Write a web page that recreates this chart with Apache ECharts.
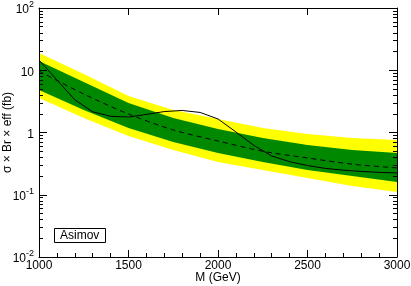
<!DOCTYPE html>
<html>
<head>
<meta charset="utf-8">
<script src="https://cdn.jsdelivr.net/npm/echarts@6/dist/echarts.min.js"></script>
<style>html,body{margin:0;padding:0;background:#fff;}#c{width:411px;height:286px;}</style>
</head>
<body>
<div id="c"></div>
<script>
// ---- data ----
const bandMass = [1000, 1250, 1500, 1750, 2000, 2250, 2500, 2750, 3000];
const expected = [9.7, 4.15, 1.98, 1.10, 0.73, 0.50, 0.39, 0.31, 0.27];
const oneSigmaLow = [4.82, 2.30, 1.18, 0.704, 0.469, 0.336, 0.250, 0.200, 0.160];
const oneSigmaHigh = [14.1, 6.47, 2.98, 1.71, 1.14, 0.816, 0.630, 0.523, 0.469];
const twoSigmaLow = [3.58, 1.71, 0.879, 0.523, 0.336, 0.250, 0.186, 0.138, 0.111];
const twoSigmaHigh = [18.9, 8.71, 3.86, 2.30, 1.65, 1.18, 0.946, 0.816, 0.758];
const obsMass = [1000, 1100, 1200, 1300, 1400, 1500, 1600, 1700, 1800, 1900, 2000,
                 2100, 2200, 2300, 2400, 2500, 2600, 2700, 2800, 2900, 3000];
const observed = [14.6, 7.0, 3.35, 2.15, 1.82, 1.77, 1.95, 2.17, 2.26, 2.10, 1.65,
                  1.02, 0.62, 0.42, 0.34, 0.295, 0.265, 0.248, 0.237, 0.229, 0.224];
const yTickValues = [0.01, 0.1, 1, 10, 100];
const yTickText = [['10', '-2'], ['10', '-1'], ['1', ''], ['10', ''], ['10', '2']];
const yMinorValues = [0.02,0.03,0.04,0.05,0.06,0.07,0.08,0.09,
                      0.2,0.3,0.4,0.5,0.6,0.7,0.8,0.9,
                      2,3,4,5,6,7,8,9,
                      20,30,40,50,60,70,80,90];
const xTitle = 'M (GeV)';
const yTitle = 'σ × Br × eff (fb)';
const boxLabel = 'Asimov';

const FONT = '"Liberation Sans", Arial, Helvetica, sans-serif';

function band(lo, hi, color) {
  return {
    type: 'custom',
    silent: true,
    xAxisIndex: 0, yAxisIndex: 0,
    z: 1,
    data: [[bandMass[0], lo[0]]],
    renderItem: function (params, api) {
      if (params.dataIndex !== 0) return;
      const pts = [];
      for (let i = 0; i < bandMass.length; i++) pts.push(api.coord([bandMass[i], hi[i]]));
      for (let i = bandMass.length - 1; i >= 0; i--) pts.push(api.coord([bandMass[i], lo[i]]));
      return { type: 'polygon', shape: { points: pts }, style: { fill: color, stroke: null } };
    }
  };
}

function yLabel(v) {
  for (let i = 0; i < yTickValues.length; i++) {
    if (Math.abs(Math.log10(v) - Math.log10(yTickValues[i])) < 1e-6) {
      const t = yTickText[i];
      return t[1] ? '{b|' + t[0] + '}{s|' + t[1] + '}' : '{b|' + t[0] + '}';
    }
  }
  return '';
}

const logAxisBase = { type: 'log', logBase: 10, min: 0.01, max: 100, gridIndex: 0, splitLine: { show: false } };

const chart = echarts.init(document.getElementById('c'), null, { renderer: 'canvas' });
chart.setOption({
  animation: false,
  backgroundColor: '#fff',
  textStyle: { fontFamily: FONT },
  grid: { left: 39, right: 14, top: 8, bottom: 29, containLabel: false, outerBoundsMode: 'none' },
  title: {
    text: boxLabel, left: 54, top: 228,
    borderColor: '#000', borderWidth: 1, padding: [1, 6, 1, 6],
    textStyle: { fontFamily: FONT, fontSize: 12, fontWeight: 'normal', color: '#000', lineHeight: 13 }
  },
  xAxis: [
    {
      type: 'value', min: 1000, max: 3000, interval: 500, position: 'bottom', z: 5,
      name: xTitle, nameLocation: 'middle', nameGap: 15, nameMoveOverlap: false,
      nameTextStyle: { fontFamily: FONT, fontSize: 12, color: '#000', verticalAlign: 'top' },
      axisLine: { show: true, onZero: false, lineStyle: { color: '#000', width: 1 } },
      axisTick: { show: true, inside: true, length: 7, lineStyle: { color: '#000' } },
      minorTick: { show: true, splitNumber: 5, length: 4, lineStyle: { color: '#000' } },
      axisLabel: { fontFamily: FONT, fontSize: 12, color: '#000', margin: 3, formatter: v => String(v) },
      splitLine: { show: false }
    },
    {
      type: 'value', min: 1000, max: 3000, interval: 500, position: 'top', z: 5,
      axisLine: { show: true, onZero: false, lineStyle: { color: '#000', width: 1 } },
      axisTick: { show: true, inside: true, length: 7, lineStyle: { color: '#000' } },
      axisLabel: { show: false },
      splitLine: { show: false }
    }
  ],
  yAxis: [
    Object.assign({}, logAxisBase, {
      position: 'left', z: 5,
      name: yTitle, nameLocation: 'middle', nameGap: 25, nameRotate: 90, nameMoveOverlap: false,
      nameTextStyle: { fontFamily: FONT, fontSize: 12, color: '#000' },
      axisLine: { show: true, onZero: false, lineStyle: { color: '#000', width: 1 } },
      axisTick: { show: true, inside: true, length: 8, customValues: yTickValues, lineStyle: { color: '#000' } },
      axisLabel: {
        customValues: yTickValues, margin: 5, formatter: yLabel,
        rich: {
          b: { fontFamily: FONT, fontSize: 12, color: '#000', lineHeight: 16, verticalAlign: 'bottom' },
          s: { fontFamily: FONT, fontSize: 9, color: '#000', lineHeight: 9, verticalAlign: 'top' }
        }
      }
    }),
    Object.assign({}, logAxisBase, {
      position: 'left', z: 5,
      axisLine: { show: false },
      axisTick: { show: true, inside: true, length: 4, customValues: yMinorValues, lineStyle: { color: '#000' } },
      axisLabel: { show: false }
    }),
    Object.assign({}, logAxisBase, {
      position: 'right', z: 5,
      axisLine: { show: true, onZero: false, lineStyle: { color: '#000', width: 1 } },
      axisTick: { show: true, inside: true, length: 8, customValues: yTickValues, lineStyle: { color: '#000' } },
      axisLabel: { show: false }
    }),
    Object.assign({}, logAxisBase, {
      position: 'right', z: 5,
      axisLine: { show: false },
      axisTick: { show: true, inside: true, length: 4, customValues: yMinorValues, lineStyle: { color: '#000' } },
      axisLabel: { show: false }
    })
  ],
  series: [
    band(twoSigmaLow, twoSigmaHigh, '#ffff00'),
    band(oneSigmaLow, oneSigmaHigh, '#008800'),
    {
      type: 'line', xAxisIndex: 0, yAxisIndex: 0, z: 3,
      data: bandMass.map((m, i) => [m, expected[i]]),
      smooth: 0.3, showSymbol: false, symbol: 'none', silent: true,
      lineStyle: { color: '#000', width: 1, type: [5, 4] }
    },
    {
      type: 'line', xAxisIndex: 0, yAxisIndex: 0, z: 4,
      data: obsMass.map((m, i) => [m, observed[i]]),
      smooth: false, showSymbol: false, symbol: 'none', silent: true,
      lineStyle: { color: '#000', width: 1, type: 'solid' }
    }
  ]
});
</script>
</body>
</html>
